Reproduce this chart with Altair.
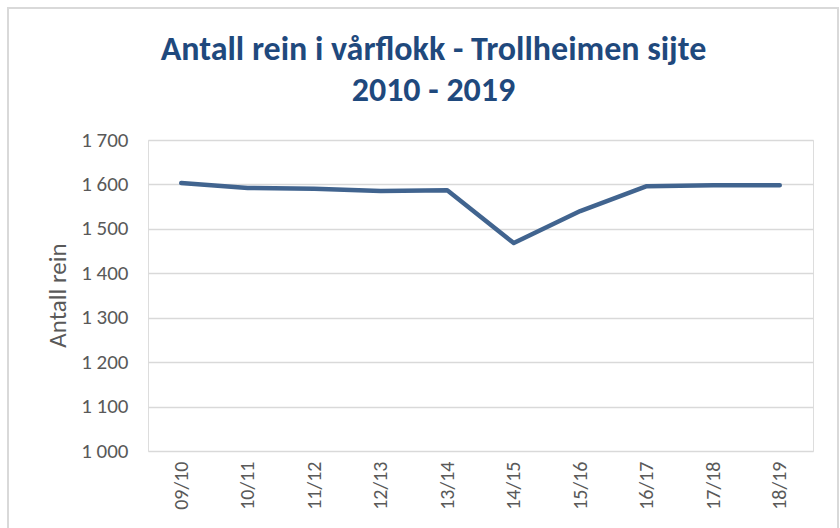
import altair as alt
import pandas as pd

seasons = ["09/10", "10/11", "11/12", "12/13", "13/14", "14/15", "15/16", "16/17", "17/18", "18/19"]
antall = [1603, 1592, 1590, 1585, 1587, 1468, 1540, 1596, 1598, 1598]

df = pd.DataFrame({"Sesong": seasons, "Antall": antall})

FONT = "Carlito, Liberation Sans Narrow, Liberation Sans, sans-serif"

line = alt.Chart(df).mark_line(color="#41648F", strokeWidth=4.5, strokeJoin="round", strokeCap="round").encode(
    x=alt.X("Sesong:N", sort=seasons, title=None,
            scale=alt.Scale(paddingInner=0, paddingOuter=0.5),
            axis=alt.Axis(labelAngle=-90, labelAlign="right", labelBaseline="middle",
                          labelPadding=10, ticks=False, domain=False, grid=False,
                          labelFont=FONT, labelFontSize=20, labelColor="#595959")),
    y=alt.Y("Antall:Q", title="Antall rein",
            scale=alt.Scale(domain=[1000, 1700], nice=False, zero=False),
            axis=alt.Axis(values=[1000, 1100, 1200, 1300, 1400, 1500, 1600, 1700],
                          labelExpr="replace(format(datum.value, ','), ',', ' ')",
                          ticks=False, domain=False, grid=True, gridColor="#D9D9D9", gridWidth=1.3,
                          labelPadding=20, labelFont=FONT, labelFontSize=21, labelColor="#595959",
                          titleFont=FONT, titleFontSize=25, titleFontWeight="normal", titleColor="#595959",
                          titleAngle=-90, titleX=-91, titleY=155, titleAlign="center", titleBaseline="middle")),
)

frame = alt.Chart(df).mark_rect(fill=None, stroke="#D9D9D9", strokeWidth=2).encode(
    x=alt.value(-140), x2=alt.value(690), y=alt.value(-132), y2=alt.value(400)
)

chart = alt.layer(frame, line).properties(
    width=665, height=311,
    autosize=alt.AutoSizeParams(type="none"),
    padding={"left": 148, "top": 140, "right": 27, "bottom": 77},
    title=alt.TitleParams(text=["Antall rein i vårflokk - Trollheimen sijte", "2010 - 2019"],
                          font=FONT, fontSize=34, fontWeight="bold", color="#1F497D",
                          anchor="middle", dx=-47, lineHeight=41, offset=-101),
).configure_view(stroke=None).configure(background="white")

chart.save("out.html", embed_options={"renderer": "svg", "actions": False})
